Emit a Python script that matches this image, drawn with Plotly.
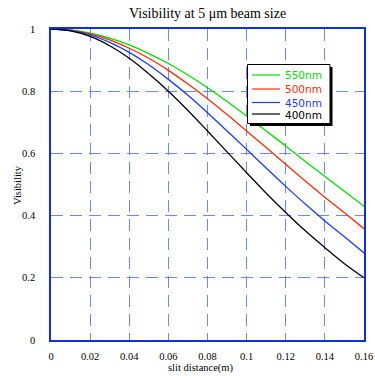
import plotly.graph_objects as go

# slit distance (m)
slit = [0.00, 0.01, 0.02, 0.03, 0.04, 0.05, 0.06, 0.07, 0.08,
        0.09, 0.10, 0.11, 0.12, 0.13, 0.14, 0.15, 0.16]

vis_550 = [1.000, 0.997, 0.987, 0.971, 0.949, 0.921, 0.889, 0.852, 0.811,
           0.767, 0.720, 0.672, 0.624, 0.574, 0.526, 0.478, 0.430]
vis_500 = [1.000, 0.996, 0.984, 0.965, 0.938, 0.906, 0.867, 0.823, 0.776,
           0.725, 0.672, 0.619, 0.565, 0.511, 0.459, 0.409, 0.358]
vis_450 = [1.000, 0.995, 0.981, 0.957, 0.925, 0.885, 0.838, 0.787, 0.731,
           0.672, 0.613, 0.553, 0.494, 0.437, 0.383, 0.332, 0.280]
vis_400 = [1.000, 0.994, 0.976, 0.946, 0.906, 0.856, 0.800, 0.738, 0.672,
           0.605, 0.538, 0.472, 0.410, 0.351, 0.297, 0.245, 0.200]

series_names = ["550nm", "500nm", "450nm", "400nm"]
series_vals = [vis_550, vis_500, vis_450, vis_400]
series_colors = ["#00e000", "#ff2a00", "#1a3cff", "#000000"]

x_ticks = [0, 0.02, 0.04, 0.06, 0.08, 0.1, 0.12, 0.14, 0.16]
x_tick_text = ["0", "0.02", "0.04", "0.06", "0.08", "0.1", "0.12", "0.14", "0.16"]
y_ticks = [0, 0.2, 0.4, 0.6, 0.8, 1]
y_tick_text = ["0", "0.2", "0.4", "0.6", "0.8", "1"]

fig = go.Figure()
for name, vals, col in zip(series_names, series_vals, series_colors):
    fig.add_trace(go.Scatter(x=slit, y=vals, mode="lines", name=name,
                             line=dict(color=col, width=1.3, shape="spline"),
                             showlegend=False))

W, H = 375, 378
L, R, T, B = 51, 11, 29, 38
pw, ph = W - L - R, H - T - B

def px(xp):
    return (xp - L) / pw

def py(yp):
    return (H - B - yp) / ph

shapes = []
annotations = []
# manual legend box with shadow
bx0, bx1, by0, by1 = 247.5, 330, 64.5, 123.5
shapes.append(dict(type="rect", xref="paper", yref="paper",
                   x0=px(bx0 + 2.5), x1=px(bx1 + 2.5), y0=py(by0 + 2.5), y1=py(by1 + 2.5),
                   fillcolor="black", line=dict(width=0), layer="above"))
shapes.append(dict(type="rect", xref="paper", yref="paper",
                   x0=px(bx0), x1=px(bx1), y0=py(by0), y1=py(by1),
                   fillcolor="white", line=dict(color="black", width=1), layer="above"))
rows = [75, 89, 102.5, 114]
for name, col, ry in zip(series_names, series_colors, rows):
    shapes.append(dict(type="line", xref="paper", yref="paper",
                       x0=px(252), x1=px(280), y0=py(ry), y1=py(ry),
                       line=dict(color=col, width=1.2), layer="above"))
    annotations.append(dict(text=name, xref="paper", yref="paper",
                            x=px(282.5), y=py(ry), xanchor="left", yanchor="middle",
                            showarrow=False, height=11, valign="middle",
                            font=dict(family="DejaVu Sans", size=10.5, color=col)))

serif = "Liberation Serif"
# axis titles and title
annotations.append(dict(text="slit distance(m)", xref="paper", yref="paper",
                        x=px(201), y=py(368), xanchor="center", yanchor="middle",
                        showarrow=False, font=dict(family=serif, size=10.5, color="black")))
annotations.append(dict(text="Visibility", xref="paper", yref="paper",
                        x=px(17), y=py(185), xanchor="center", yanchor="middle",
                        textangle=-90, showarrow=False,
                        font=dict(family=serif, size=10.5, color="black")))
annotations.append(dict(text="Visibility at 5 μm beam size", xref="paper", yref="paper",
                        x=0.5, y=py(13), xanchor="center", yanchor="middle",
                        showarrow=False, font=dict(family=serif, size=14, color="black")))

grid_col = "#6f88f0"
axis_col = "#1030e0"

fig.update_layout(
    width=W, height=H,
    margin=dict(l=L, r=R, t=T, b=B, pad=0),
    paper_bgcolor="white", plot_bgcolor="white",
    font=dict(family=serif, size=10, color="black"),
    xaxis=dict(range=[0, 0.16], tickvals=x_ticks, ticktext=x_tick_text,
               automargin=False, ticklabeloverflow="allow",
               showline=True, linecolor=axis_col, linewidth=1.5, mirror=True,
               showgrid=True, gridcolor=grid_col, griddash="12px,7px", gridwidth=1.2,
               zeroline=False, ticks="", ticklabelstandoff=6,
               tickfont=dict(family=serif, size=10.5, color="black")),
    yaxis=dict(range=[0, 1], tickvals=y_ticks, ticktext=y_tick_text,
               automargin=False, ticklabeloverflow="allow",
               showline=True, linecolor=axis_col, linewidth=1.5, mirror=True,
               showgrid=True, gridcolor=grid_col, griddash="12px,7px", gridwidth=1.2,
               zeroline=False, ticks="", ticklabelstandoff=12,
               tickfont=dict(family=serif, size=10.5, color="black")),
    shapes=shapes, annotations=annotations,
)

fig.write_html("out.html",
               config={"displayModeBar": False},
               post_script="document.body.style.margin='0';document.body.style.overflow='hidden';")
